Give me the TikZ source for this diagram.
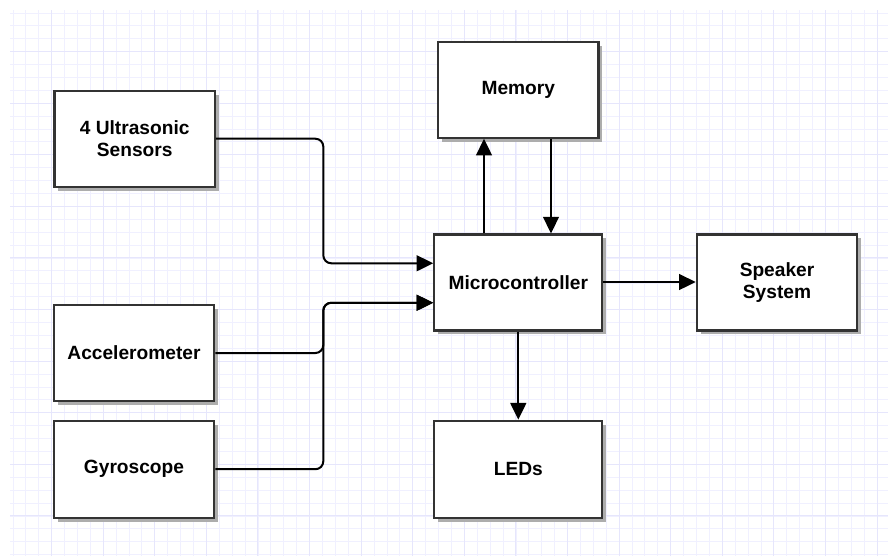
\documentclass[tikz,border=0pt]{standalone}
\usepackage{fontspec}
\setmainfont{Liberation Sans}
\usetikzlibrary{arrows.meta,shadows}
\definecolor{gridminor}{RGB}{240,240,255}
\definecolor{gridmajor}{RGB}{230,230,252}
\definecolor{boxline}{RGB}{51,51,51}
\tikzset{
	block/.style={draw=boxline, line width=1.2pt, fill=white, align=center, inner sep=0pt,
		font=\fontsize{10.9}{12.5}\selectfont\bfseries,
		drop shadow={shadow xshift=2.2pt, shadow yshift=-2.2pt, fill=black!32, opacity=1}},
	link/.style={line width=1.15pt, rounded corners=4.5pt, -{Triangle[length=9.5pt,width=9pt]}}
}
\begin{document}
\begin{tikzpicture}[x=0.02cm, y=-0.02cm]
	\useasboundingbox (0,0) rectangle (888,556);
	% background grid
	\draw[gridminor, line width=0.45pt, step=0.258cm] (10,10) grid (888,556);
	\draw[gridmajor, line width=0.55pt, step=1.032cm] (10,10) grid (888,556);
	% blocks
	\node[block, minimum width=3.21cm, minimum height=1.92cm] (ultra) at (134.7,138.7) {4 Ultrasonic\\Sensors};
	\node[block, minimum width=3.21cm, minimum height=1.92cm] (accel) at (134,353) {Accelerometer};
	\node[block, minimum width=3.21cm, minimum height=1.94cm] (gyro) at (134,469.2) {Gyroscope};
	\node[block, minimum width=3.21cm, minimum height=1.92cm] (memory) at (518.3,89.7) {Memory};
	\node[block, minimum width=3.36cm, minimum height=1.92cm] (micro) at (518.3,282.5) {Microcontroller};
	\node[block, minimum width=3.21cm, minimum height=1.92cm] (speaker) at (777,282.5) {Speaker\\System};
	\node[block, minimum width=3.36cm, minimum height=1.94cm] (leds) at (518.3,469.2) {LEDs};
	% connectors
	\draw[link] (ultra.east) -| (323.3,230) |- ([yshift=0.385cm]micro.west);
	\draw[link] (accel.east) -| (323.3,330) |- ([yshift=-0.405cm]micro.west);
	\draw[link] (gyro.east) -| (323.3,330) |- ([yshift=-0.405cm]micro.west);
	\draw[link] ([xshift=-0.686cm]micro.north) -- ([xshift=-0.686cm]memory.south);
	\draw[link] ([xshift=0.654cm]memory.south) -- ([xshift=0.654cm]micro.north);
	\draw[link] ([yshift=0.01cm]micro.east) -- ([yshift=0.01cm]speaker.west);
	\draw[link] (micro.south) -- (leds.north);
\end{tikzpicture}
\end{document}
